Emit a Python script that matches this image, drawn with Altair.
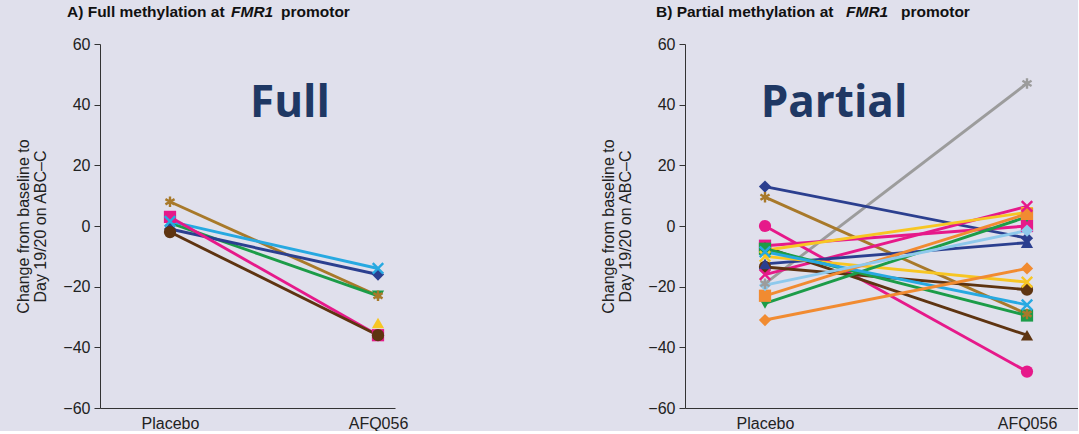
import altair as alt
import pandas as pd

# ---------------- data ----------------
GOLD, GREEN, CYAN, NAVY = "#a8792a", "#1c9c48", "#27a9e1", "#2b3f8f"
MAGENTA, BROWN, YELLOW, GREY = "#e6198a", "#5e3411", "#f7c623", "#9c9c9c"
ORANGE, LIGHTBLUE = "#f18b31", "#8ec9ec"

X_PATH = "M-1,-1L1,1M-1,1L1,-1"
STAR_PATH = "M0,-1L0,1M-0.87,-0.5L0.87,0.5M-0.87,0.5L0.87,-0.5"

left_colors = [GOLD, GREEN, CYAN, NAVY, MAGENTA, BROWN, YELLOW]
left_shapes = ["star", "triangle-down", "x", "diamond", "square", "circle", "triangle-up"]
left_placebo = [8, 1, 1.5, -1, 3, -2, None]
left_afq = [-23, -23, -14, -16, -36, -36, -32]

right_colors = [GREY, NAVY, GOLD, MAGENTA, MAGENTA, MAGENTA, BROWN, BROWN, NAVY,
                YELLOW, YELLOW, GREEN, GREEN, CYAN, ORANGE, ORANGE, LIGHTBLUE]
right_shapes = ["star", "diamond", "star", "circle", "square", "x", "triangle-up", "circle",
                "triangle-up", "triangle-down", "x", "triangle-down", "square", "x",
                "diamond", "square", "diamond"]
right_placebo = [-19, 13, 9.5, 0, -6.5, -16, -7, -13.5, -12.5,
                 -8, -10, -25.5, -7.5, -8.5, -31, -23, -19.5]
right_afq = [47, -4, -29, -48, 0, 6.5, -36, -21, -5.5,
             4.5, -18.5, 3, -29.5, -26, -14, 4, -1.5]

conditions = ["Placebo", "AFQ056"]
y_ticks = [-60, -40, -20, 0, 20, 40, 60]


def long_table(colors, shapes, placebo, afq):
    rows = []
    for i, (c, s, p, a) in enumerate(zip(colors, shapes, placebo, afq)):
        for k, v in enumerate([p, a]):
            if v is None:
                continue
            path = {"x": X_PATH, "star": STAR_PATH}.get(s, s)
            rows.append({"id": i, "order": i, "pos": k, "cond": conditions[k],
                         "value": v, "color": c, "shape": path,
                         "stroked": s in ("x", "star")})
    return pd.DataFrame(rows)


BG = "#e0e0ec"
AXIS_COLOR = "#333333"
FONT = "Liberation Sans"
TXT = "#222222"


def text_piece(txt, x, y, size=15.5, weight="bold", style="normal", color="#111111",
               font=FONT, align="left"):
    return alt.Chart(pd.DataFrame({"t": [txt]})).mark_text(
        align=align, baseline="middle", font=font, fontSize=size,
        fontWeight=weight, fontStyle=style, color=color
    ).encode(x=alt.value(x), y=alt.value(y), text="t:N")


def panel(df, width, xdom, title_pieces, big_text, big_x):
    base = alt.Chart(df)
    x = alt.X("pos:Q", scale=alt.Scale(domain=xdom, nice=False, zero=False),
              axis=alt.Axis(values=[0, 1], labelExpr="datum.value == 0 ? 'Placebo' : 'AFQ056'",
                            title=None, grid=False, ticks=False, labelPadding=7,
                            labelFontSize=16, labelColor=TXT, labelFont=FONT,
                            domainColor=AXIS_COLOR, labelFlush=False))
    y = alt.Y("value:Q", scale=alt.Scale(domain=[-60, 60], nice=False),
              axis=alt.Axis(values=y_ticks, grid=False, tickSize=6, tickColor=AXIS_COLOR,
                            domainColor=AXIS_COLOR, labelFontSize=16, labelColor=TXT,
                            labelFont=FONT, labelPadding=4,
                            title=["Change from baseline to", "Day 19/20 on ABC\u2013C"],
                            titleFont=FONT, titleFontSize=16, titleFontWeight="normal",
                            titleColor=TXT, titlePadding=14, titleLineHeight=17))
    lines = base.mark_line(strokeWidth=2.9).encode(
        x=x, y=y, detail="id:N", color=alt.Color("color:N", scale=None), order="pos:Q")
    filled = base.transform_filter("!datum.stroked").mark_point(
        filled=True, size=150, opacity=1).encode(
        x="pos:Q", y="value:Q",
        color=alt.Color("color:N", scale=None), shape=alt.Shape("shape:N", scale=None))
    stroked = base.transform_filter("datum.stroked").mark_point(
        filled=False, size=110, strokeWidth=2.4, opacity=1).encode(
        x="pos:Q", y="value:Q",
        color=alt.Color("color:N", scale=None), shape=alt.Shape("shape:N", scale=None))
    texts = [text_piece(t, px, -32, style=st) for (t, px, st) in title_pieces]
    big = text_piece(big_text, big_x, 60, size=44, weight="bold", color="#1f3864",
                     font="Open Sans", align="center")
    return alt.layer(lines, filled, stroked, *texts, big).properties(width=width, height=364)


left_df = long_table(left_colors, left_shapes, left_placebo, left_afq)
right_df = long_table(right_colors, right_shapes, right_placebo, right_afq)

left = panel(left_df, 295, [-70 / 208, 225 / 208],
             [("A) Full methylation at", -33, "normal"), ("FMR1", 131, "italic"),
              ("promotor", 181, "normal")], "Full", 190)
right = panel(right_df, 393, [-80 / 262, 313 / 262],
              [("B) Partial methylation at", -29, "normal"), ("FMR1", 161, "italic"),
               ("promotor", 216, "normal")], "Partial", 149)

chart = alt.hconcat(left, right, spacing=192).properties(
    background=BG, padding={"left": 15, "top": 5, "right": 0, "bottom": 0}
).configure_view(stroke=None)

chart.save("out.html", embed_options={"renderer": "svg", "actions": False})
